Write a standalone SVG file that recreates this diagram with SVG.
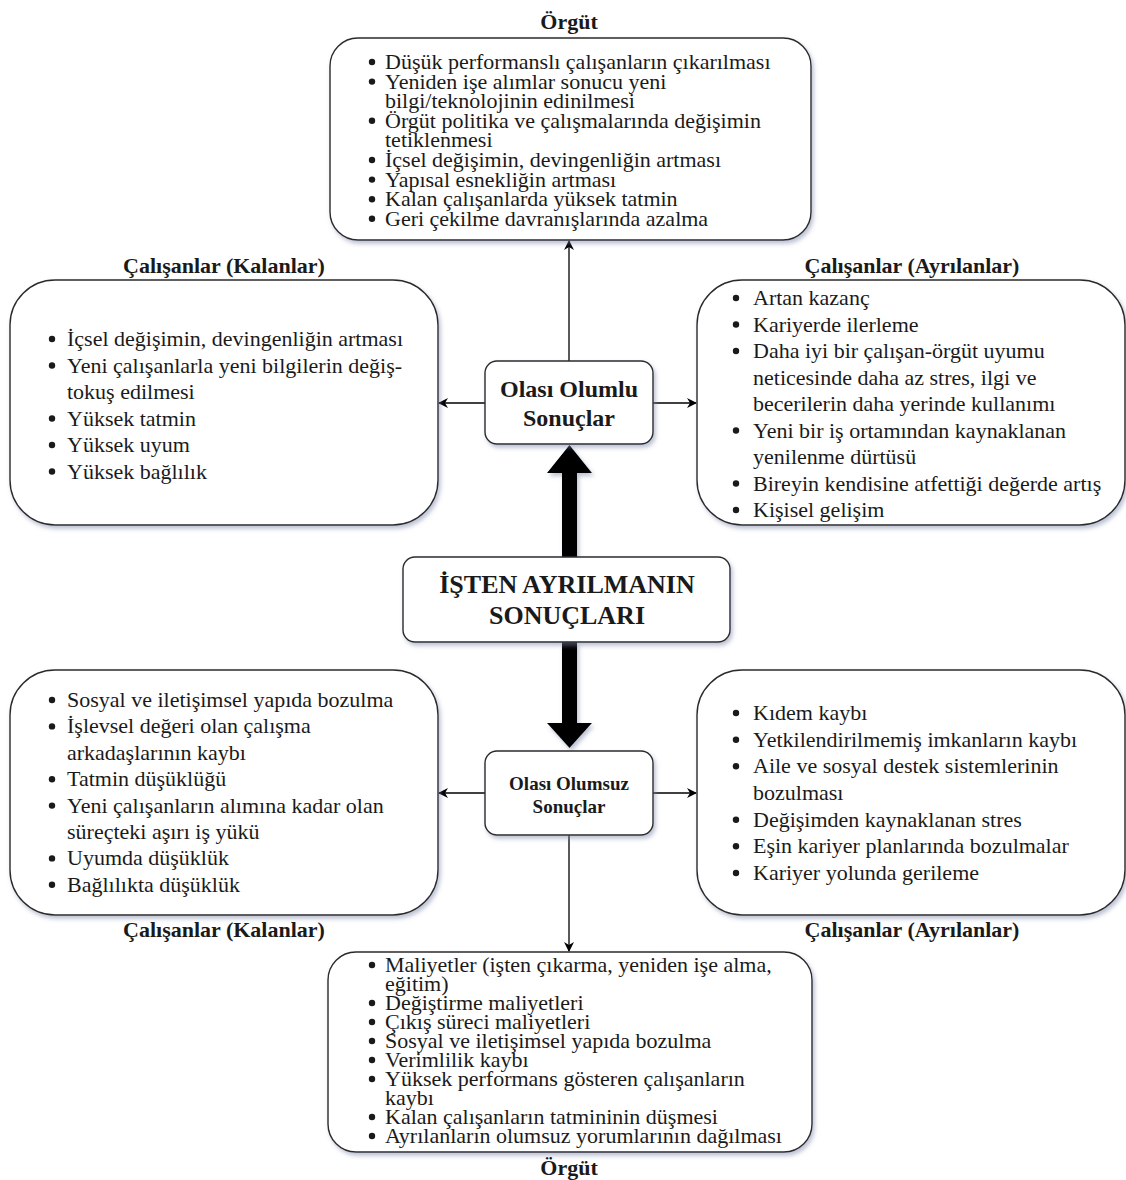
<svg xmlns="http://www.w3.org/2000/svg" width="1126" height="1180" viewBox="0 0 1126 1180">
<defs>
<filter id="sh" x="-10%" y="-10%" width="130%" height="130%">
<feDropShadow dx="2" dy="3" stdDeviation="2" flood-color="#7a84a8" flood-opacity="0.5"/>
</filter>
<marker id="ah" viewBox="0 0 10 10" refX="9" refY="5" markerWidth="10" markerHeight="10" markerUnits="userSpaceOnUse" orient="auto">
<path d="M0,0 L10,5 L0,10 L3,5 z" fill="#000"/>
</marker>
<style>
.box{fill:#fff;stroke:#2a2a2a;stroke-width:1.4;filter:url(#sh)}
.t{font-family:"Liberation Serif","Times New Roman",serif;font-size:22px;fill:#1a1a1a}
.ttl{font-family:"Liberation Serif","Times New Roman",serif;font-size:22px;font-weight:bold;fill:#1a1a1a;text-anchor:middle}
.c{font-family:"Liberation Serif","Times New Roman",serif;font-weight:bold;fill:#1a1a1a;text-anchor:middle}
.b{fill:#1a1a1a}
.ln{stroke:#000;stroke-width:1.3;fill:none;marker-end:url(#ah)}
</style>
</defs>
<rect width="1126" height="1180" fill="#fff"/>

<g id="connectors">
<line class="ln" x1="569" y1="361" x2="569" y2="241"/>
<line class="ln" x1="485" y1="403" x2="439" y2="403"/>
<line class="ln" x1="653" y1="403" x2="696" y2="403"/>
<line class="ln" x1="485" y1="793" x2="439" y2="793"/>
<line class="ln" x1="653" y1="793" x2="696" y2="793"/>
<line class="ln" x1="569" y1="835" x2="569" y2="951"/>
<polygon points="562,557 562,473 547,473 569.5,445 592,473 577,473 577,557" fill="#000" filter="url(#sh)"/>
<polygon points="562,642 562,723 547,723 569.5,748 592,723 577,723 577,642" fill="#000" filter="url(#sh)"/>
</g>

<g id="org-top">
<text class="ttl" x="569" y="29">Örgüt</text>
<rect class="box" x="330" y="38" width="481" height="202" rx="28"/>
<g class="b"><circle cx="372" cy="62" r="3.2"/><circle cx="372" cy="81.6" r="3.2"/><circle cx="372" cy="120.8" r="3.2"/><circle cx="372" cy="160" r="3.2"/><circle cx="372" cy="179.6" r="3.2"/><circle cx="372" cy="199.2" r="3.2"/><circle cx="372" cy="218.8" r="3.2"/></g>
<text class="t" x="385" y="69">Düşük performanslı çalışanların çıkarılması</text>
<text class="t" x="385" y="88.6">Yeniden işe alımlar sonucu yeni</text>
<text class="t" x="385" y="108.2">bilgi/teknolojinin edinilmesi</text>
<text class="t" x="385" y="127.8">Örgüt politika ve çalışmalarında değişimin</text>
<text class="t" x="385" y="147.4">tetiklenmesi</text>
<text class="t" x="385" y="167">İçsel değişimin, devingenliğin artması</text>
<text class="t" x="385" y="186.6">Yapısal esnekliğin artması</text>
<text class="t" x="385" y="206.2">Kalan çalışanlarda yüksek tatmin</text>
<text class="t" x="385" y="225.8">Geri çekilme davranışlarında azalma</text>
</g>

<g id="kalanlar-pos">
<text class="ttl" x="224" y="273">Çalışanlar (Kalanlar)</text>
<rect class="box" x="10" y="280" width="428" height="245" rx="45"/>
<g class="b"><circle cx="52" cy="339" r="3.2"/><circle cx="52" cy="365.5" r="3.2"/><circle cx="52" cy="418.5" r="3.2"/><circle cx="52" cy="445" r="3.2"/><circle cx="52" cy="471.5" r="3.2"/></g>
<text class="t" x="67" y="346">İçsel değişimin, devingenliğin artması</text>
<text class="t" x="67" y="372.5">Yeni çalışanlarla yeni bilgilerin değiş-</text>
<text class="t" x="67" y="399">tokuş edilmesi</text>
<text class="t" x="67" y="425.5">Yüksek tatmin</text>
<text class="t" x="67" y="452">Yüksek uyum</text>
<text class="t" x="67" y="478.5">Yüksek bağlılık</text>
</g>

<g id="ayrilanlar-pos">
<text class="ttl" x="912" y="273">Çalışanlar (Ayrılanlar)</text>
<rect class="box" x="697" y="280" width="428" height="245" rx="45"/>
<g class="b"><circle cx="736" cy="298" r="3.2"/><circle cx="736" cy="324.5" r="3.2"/><circle cx="736" cy="351" r="3.2"/><circle cx="736" cy="430.5" r="3.2"/><circle cx="736" cy="483.5" r="3.2"/><circle cx="736" cy="510" r="3.2"/></g>
<text class="t" x="753" y="305">Artan kazanç</text>
<text class="t" x="753" y="331.5">Kariyerde ilerleme</text>
<text class="t" x="753" y="358">Daha iyi bir çalışan-örgüt uyumu</text>
<text class="t" x="753" y="384.5">neticesinde daha az stres, ilgi ve</text>
<text class="t" x="753" y="411">becerilerin daha yerinde kullanımı</text>
<text class="t" x="753" y="437.5">Yeni bir iş ortamından kaynaklanan</text>
<text class="t" x="753" y="464">yenilenme dürtüsü</text>
<text class="t" x="753" y="490.5">Bireyin kendisine atfettiği değerde artış</text>
<text class="t" x="753" y="517">Kişisel gelişim</text>
</g>

<g id="olumlu">
<rect class="box" x="485" y="361" width="168" height="83" rx="12"/>
<text class="c" x="569" y="397" font-size="24">Olası Olumlu</text>
<text class="c" x="569" y="426" font-size="24">Sonuçlar</text>
</g>

<g id="main">
<rect class="box" x="403" y="557" width="327" height="85" rx="12"/>
<text class="c" x="567" y="593" font-size="26">İŞTEN AYRILMANIN</text>
<text class="c" x="567" y="624" font-size="26">SONUÇLARI</text>
</g>

<g id="olumsuz">
<rect class="box" x="485" y="751" width="168" height="84" rx="12"/>
<text class="c" x="569" y="790" font-size="19">Olası Olumsuz</text>
<text class="c" x="569" y="813" font-size="19">Sonuçlar</text>
</g>

<g id="kalanlar-neg">
<rect class="box" x="10" y="670" width="428" height="245" rx="45"/>
<g class="b"><circle cx="52" cy="700" r="3.2"/><circle cx="52" cy="726.4" r="3.2"/><circle cx="52" cy="779.2" r="3.2"/><circle cx="52" cy="805.6" r="3.2"/><circle cx="52" cy="858.4" r="3.2"/><circle cx="52" cy="884.8" r="3.2"/></g>
<text class="t" x="67" y="707">Sosyal ve iletişimsel yapıda bozulma</text>
<text class="t" x="67" y="733.4">İşlevsel değeri olan çalışma</text>
<text class="t" x="67" y="759.8">arkadaşlarının kaybı</text>
<text class="t" x="67" y="786.2">Tatmin düşüklüğü</text>
<text class="t" x="67" y="812.6">Yeni çalışanların alımına kadar olan</text>
<text class="t" x="67" y="839">süreçteki aşırı iş yükü</text>
<text class="t" x="67" y="865.4">Uyumda düşüklük</text>
<text class="t" x="67" y="891.8">Bağlılıkta düşüklük</text>
<text class="ttl" x="224" y="937">Çalışanlar (Kalanlar)</text>
</g>

<g id="ayrilanlar-neg">
<rect class="box" x="697" y="670" width="428" height="245" rx="45"/>
<g class="b"><circle cx="736" cy="713" r="3.2"/><circle cx="736" cy="739.7" r="3.2"/><circle cx="736" cy="766.3" r="3.2"/><circle cx="736" cy="819.7" r="3.2"/><circle cx="736" cy="846.3" r="3.2"/><circle cx="736" cy="873" r="3.2"/></g>
<text class="t" x="753" y="720">Kıdem kaybı</text>
<text class="t" x="753" y="746.7">Yetkilendirilmemiş imkanların kaybı</text>
<text class="t" x="753" y="773.3">Aile ve sosyal destek sistemlerinin</text>
<text class="t" x="753" y="800">bozulması</text>
<text class="t" x="753" y="826.7">Değişimden kaynaklanan stres</text>
<text class="t" x="753" y="853.3">Eşin kariyer planlarında bozulmalar</text>
<text class="t" x="753" y="880">Kariyer yolunda gerileme</text>
<text class="ttl" x="912" y="937">Çalışanlar (Ayrılanlar)</text>
</g>

<g id="org-bottom">
<rect class="box" x="328" y="952" width="484" height="200" rx="28"/>
<g class="b"><circle cx="372" cy="965" r="3.2"/><circle cx="372" cy="1003" r="3.2"/><circle cx="372" cy="1022" r="3.2"/><circle cx="372" cy="1041" r="3.2"/><circle cx="372" cy="1060" r="3.2"/><circle cx="372" cy="1079" r="3.2"/><circle cx="372" cy="1117" r="3.2"/><circle cx="372" cy="1136" r="3.2"/></g>
<text class="t" x="385" y="972">Maliyetler (işten çıkarma, yeniden işe alma,</text>
<text class="t" x="385" y="991">eğitim)</text>
<text class="t" x="385" y="1010">Değiştirme maliyetleri</text>
<text class="t" x="385" y="1029">Çıkış süreci maliyetleri</text>
<text class="t" x="385" y="1048">Sosyal ve iletişimsel yapıda bozulma</text>
<text class="t" x="385" y="1067">Verimlilik kaybı</text>
<text class="t" x="385" y="1086">Yüksek performans gösteren çalışanların</text>
<text class="t" x="385" y="1105">kaybı</text>
<text class="t" x="385" y="1124">Kalan çalışanların tatmininin düşmesi</text>
<text class="t" x="385" y="1143">Ayrılanların olumsuz yorumlarının dağılması</text>
<text class="ttl" x="569" y="1175">Örgüt</text>
</g>
</svg>
